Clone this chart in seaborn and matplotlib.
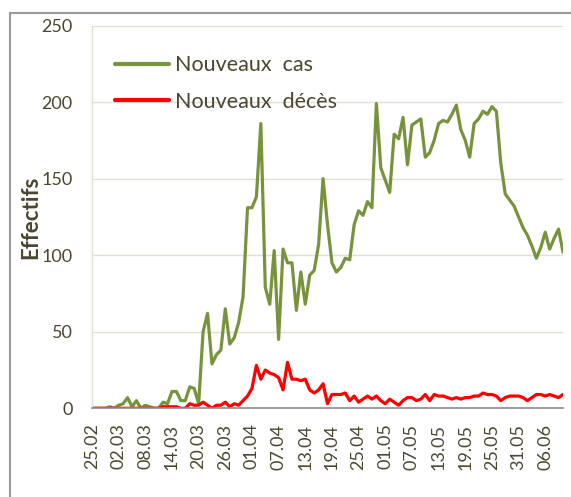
import matplotlib
matplotlib.use("Agg")
import matplotlib.pyplot as plt
from matplotlib.patches import Rectangle
import numpy as np
import pandas as pd
import seaborn as sns

# Daily counts, 25.02 -> 10.06 (2020)
NOUVEAUX_CAS = [
    0, 0, 0, 0, 1, 0, 2, 3, 7, 1,
    5, 0, 2, 1, 0, 0, 4, 3, 11, 11,
    5, 5, 14, 13, 3, 50, 62, 29, 35, 38,
    65, 42, 46, 56, 73, 131, 131, 138, 186, 79,
    68, 103, 45, 104, 95, 95, 64, 89, 68, 87,
    90, 107, 150, 120, 95, 89, 92, 98, 97, 120,
    129, 126, 135, 131, 199, 157, 149, 141, 179, 176,
    190, 159, 185, 187, 189, 164, 167, 175, 186, 188,
    187, 192, 198, 182, 175, 164, 186, 189, 194, 192,
    197, 194, 160, 140, 136, 132, 125, 118, 113, 106,
    98, 105, 115, 104, 111, 117, 102,
]

NOUVEAUX_DECES = [
    0, 0, 0, 0, 0, 0, 0, 0, 0, 0,
    0, 0, 0, 0, 0, 0, 1, 1, 1, 1,
    0, 0, 3, 2, 2, 4, 2, 0, 2, 2,
    4, 1, 3, 2, 5, 8, 13, 28, 19, 25,
    23, 22, 20, 12, 30, 19, 19, 18, 19, 12,
    10, 12, 16, 3, 9, 9, 9, 10, 5, 8,
    4, 6, 8, 6, 8, 5, 3, 6, 4, 2,
    5, 7, 7, 5, 6, 9, 5, 9, 8, 8,
    7, 6, 7, 6, 7, 7, 8, 8, 10, 9,
    9, 8, 5, 7, 8, 8, 8, 7, 5, 7,
    9, 9, 8, 9, 8, 7, 9,
]

TICK_LABELS = [
    "25.02", "02.03", "08.03", "14.03", "20.03", "26.03", "01.04", "07.04", "13.04",
    "19.04", "25.04", "01.05", "07.05", "13.05", "19.05", "25.05", "31.05", "06.06",
]
Y_TICKS = [0, 50, 100, 150, 200, 250]

SERIES_NAMES = ["Nouveaux  cas", "Nouveaux  décès"]
COLORS = ["#77933c", "#ff0000"]
TEXT_COLOR = "#4a4630"
GRID_COLOR = "#e3dfd0"

sns.set_style("white")
plt.rcParams["font.family"] = ["Lato", "DejaVu Sans"]

n_days = len(NOUVEAUX_CAS)
day_index = np.arange(n_days)
df = pd.DataFrame({
    "jour": np.concatenate([day_index, day_index]),
    "effectif": NOUVEAUX_CAS + NOUVEAUX_DECES,
    "serie": [SERIES_NAMES[0]] * n_days + [SERIES_NAMES[1]] * n_days,
})

fig = plt.figure(figsize=(5.71, 4.97), dpi=100)
ax = fig.add_axes([92 / 571, 1 - 408.3 / 497, 471 / 571, 382.8 / 497])

sns.lineplot(
    data=df, x="jour", y="effectif", hue="serie", hue_order=SERIES_NAMES,
    palette=dict(zip(SERIES_NAMES, COLORS)), linewidth=2.3, ax=ax,
)

ax.set_xlim(0, n_days - 1)
ax.set_ylim(0, 250)
ax.set_yticks(Y_TICKS)
ax.set_xticks(np.arange(0, n_days, 6)[:len(TICK_LABELS)])
ax.set_xticklabels(TICK_LABELS, rotation=90)
ax.tick_params(axis="both", length=0, labelsize=13, colors=TEXT_COLOR)
ax.tick_params(axis="y", pad=14)
ax.tick_params(axis="x", pad=11)
ax.yaxis.grid(True, color=GRID_COLOR, linewidth=1.0)
ax.set_axisbelow(True)
ax.set_xlabel("")
ax.set_ylabel("")

for side in ["top", "right"]:
    ax.spines[side].set_visible(False)
ax.spines["left"].set_color(GRID_COLOR)
ax.spines["left"].set_linewidth(1.0)
ax.spines["bottom"].set_color("#8c8c8c")
ax.spines["bottom"].set_linewidth(1.2)

fig.text(31 / 571, 1 - 217 / 497, "Effectifs", rotation=90, fontsize=16,
         fontweight="bold", color=TEXT_COLOR, ha="center", va="center")

leg = ax.legend(
    loc="upper left", bbox_to_anchor=(0.049, 0.922), frameon=False,
    fontsize=15.5, handlelength=2.5, handletextpad=0.3, labelspacing=0.75,
    borderaxespad=0, borderpad=0,
)
for text in leg.get_texts():
    text.set_color(TEXT_COLOR)
for line in leg.get_lines():
    line.set_linewidth(3)

# outer chart frame (cut by the image on the right and bottom)
fig.patches.append(Rectangle((10 / 571, -0.1), 1.2, 1 - 13 / 497 + 0.1,
                             transform=fig.transFigure, fill=False,
                             edgecolor="#9a9a9a", linewidth=1.5))

fig.savefig("out.png", dpi=100)
